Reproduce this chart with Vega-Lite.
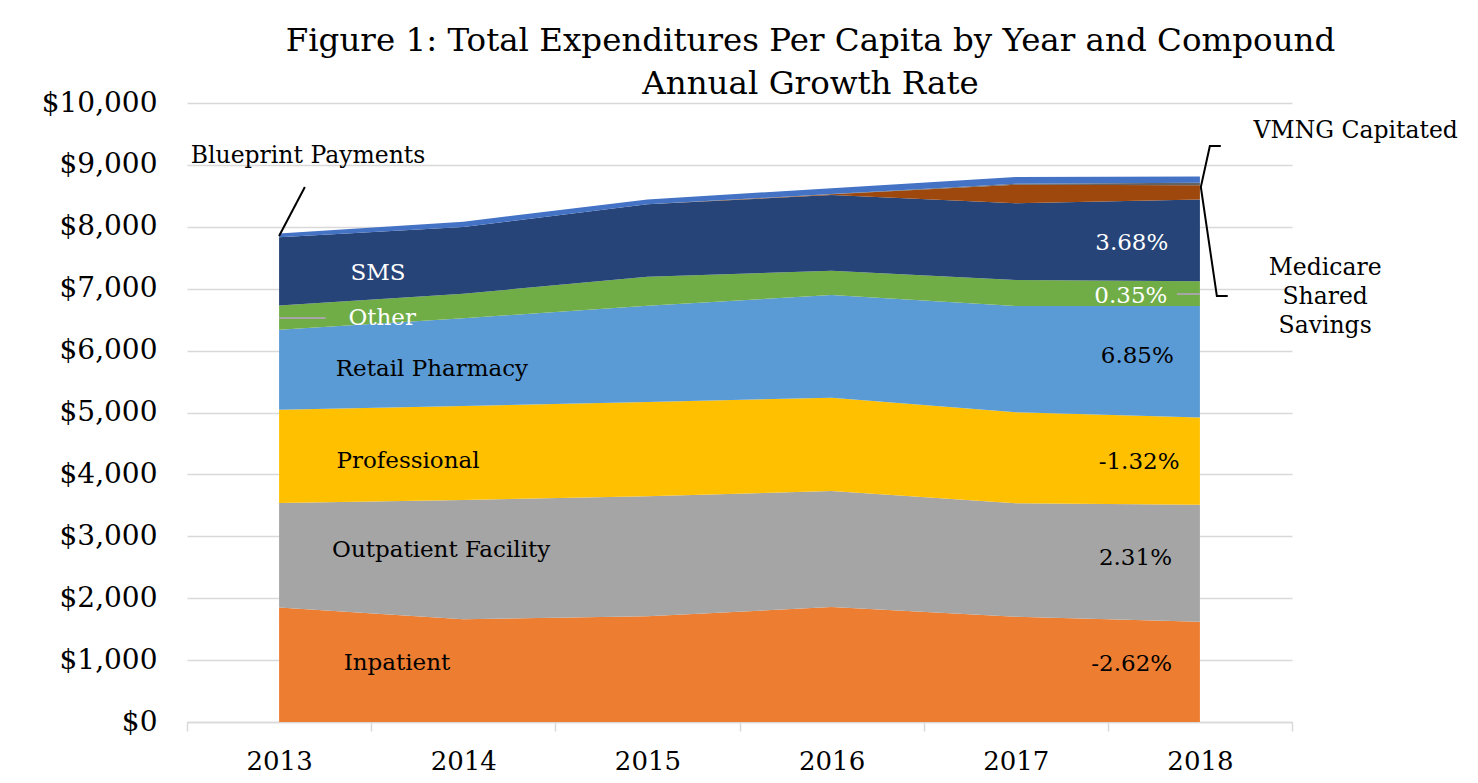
{
  "$schema": "https://vega.github.io/schema/vega-lite/v6.json",
  "width": 1105,
  "height": 619,
  "autosize": {"type": "none"},
  "padding": {"left": 187, "top": 103, "right": 186, "bottom": 61},
  "background": "white",
  "title": {
    "text": ["Figure 1: Total Expenditures Per Capita  by Year and Compound", "Annual Growth Rate"],
    "anchor": "middle",
    "dx": 71,
    "offset": -11,
    "font": "DejaVu Serif",
    "fontSize": 32.5,
    "fontWeight": "normal",
    "lineHeight": 43,
    "color": "black"
  },
  "config": {"view": {"stroke": null}, "font": "DejaVu Serif"},
  "datasets": {
    "series": [
      {"year": 2013, "series": "Inpatient", "value": 1850, "o": 1},
      {"year": 2014, "series": "Inpatient", "value": 1659, "o": 1},
      {"year": 2015, "series": "Inpatient", "value": 1708, "o": 1},
      {"year": 2016, "series": "Inpatient", "value": 1858, "o": 1},
      {"year": 2017, "series": "Inpatient", "value": 1701, "o": 1},
      {"year": 2018, "series": "Inpatient", "value": 1620, "o": 1},
      {"year": 2013, "series": "Outpatient Facility", "value": 1686, "o": 2},
      {"year": 2014, "series": "Outpatient Facility", "value": 1927, "o": 2},
      {"year": 2015, "series": "Outpatient Facility", "value": 1938, "o": 2},
      {"year": 2016, "series": "Outpatient Facility", "value": 1874, "o": 2},
      {"year": 2017, "series": "Outpatient Facility", "value": 1832, "o": 2},
      {"year": 2018, "series": "Outpatient Facility", "value": 1890, "o": 2},
      {"year": 2013, "series": "Professional", "value": 1507, "o": 3},
      {"year": 2014, "series": "Professional", "value": 1519, "o": 3},
      {"year": 2015, "series": "Professional", "value": 1524, "o": 3},
      {"year": 2016, "series": "Professional", "value": 1507, "o": 3},
      {"year": 2017, "series": "Professional", "value": 1470, "o": 3},
      {"year": 2018, "series": "Professional", "value": 1410, "o": 3},
      {"year": 2013, "series": "Retail Pharmacy", "value": 1293, "o": 4},
      {"year": 2014, "series": "Retail Pharmacy", "value": 1417, "o": 4},
      {"year": 2015, "series": "Retail Pharmacy", "value": 1555, "o": 4},
      {"year": 2016, "series": "Retail Pharmacy", "value": 1659, "o": 4},
      {"year": 2017, "series": "Retail Pharmacy", "value": 1718, "o": 4},
      {"year": 2018, "series": "Retail Pharmacy", "value": 1800, "o": 4},
      {"year": 2013, "series": "Other", "value": 392, "o": 5},
      {"year": 2014, "series": "Other", "value": 397, "o": 5},
      {"year": 2015, "series": "Other", "value": 469, "o": 5},
      {"year": 2016, "series": "Other", "value": 393, "o": 5},
      {"year": 2017, "series": "Other", "value": 420, "o": 5},
      {"year": 2018, "series": "Other", "value": 399, "o": 5},
      {"year": 2013, "series": "SMS", "value": 1105, "o": 6},
      {"year": 2014, "series": "SMS", "value": 1078, "o": 6},
      {"year": 2015, "series": "SMS", "value": 1169, "o": 6},
      {"year": 2016, "series": "SMS", "value": 1223, "o": 6},
      {"year": 2017, "series": "SMS", "value": 1239, "o": 6},
      {"year": 2018, "series": "SMS", "value": 1322, "o": 6},
      {"year": 2013, "series": "VMNG Capitated", "value": 0, "o": 7},
      {"year": 2014, "series": "VMNG Capitated", "value": 0, "o": 7},
      {"year": 2015, "series": "VMNG Capitated", "value": 0, "o": 7},
      {"year": 2016, "series": "VMNG Capitated", "value": 10, "o": 7},
      {"year": 2017, "series": "VMNG Capitated", "value": 300, "o": 7},
      {"year": 2018, "series": "VMNG Capitated", "value": 230, "o": 7},
      {"year": 2013, "series": "Medicare Shared Savings", "value": 0, "o": 8},
      {"year": 2014, "series": "Medicare Shared Savings", "value": 0, "o": 8},
      {"year": 2015, "series": "Medicare Shared Savings", "value": 0, "o": 8},
      {"year": 2016, "series": "Medicare Shared Savings", "value": 5, "o": 8},
      {"year": 2017, "series": "Medicare Shared Savings", "value": 15, "o": 8},
      {"year": 2018, "series": "Medicare Shared Savings", "value": 40, "o": 8},
      {"year": 2013, "series": "Blueprint Payments", "value": 60, "o": 9},
      {"year": 2014, "series": "Blueprint Payments", "value": 85, "o": 9},
      {"year": 2015, "series": "Blueprint Payments", "value": 80, "o": 9},
      {"year": 2016, "series": "Blueprint Payments", "value": 95, "o": 9},
      {"year": 2017, "series": "Blueprint Payments", "value": 110, "o": 9},
      {"year": 2018, "series": "Blueprint Payments", "value": 100, "o": 9}
    ],
    "labelsWhite": [
      {"x": 2013.537, "y": 7254, "label": "SMS"},
      {"x": 2013.56, "y": 6527, "label": "Other"},
      {"x": 2017.63, "y": 7738, "label": "3.68%"},
      {"x": 2017.625, "y": 6882, "label": "0.35%"}
    ],
    "labelsDark": [
      {"x": 2013.83, "y": 5703, "label": "Retail Pharmacy"},
      {"x": 2013.70, "y": 4216, "label": "Professional"},
      {"x": 2013.88, "y": 2779, "label": "Outpatient Facility"},
      {"x": 2013.64, "y": 953, "label": "Inpatient"},
      {"x": 2017.66, "y": 5913, "label": "6.85%"},
      {"x": 2017.67, "y": 4200, "label": "-1.32%"},
      {"x": 2017.65, "y": 2649, "label": "2.31%"},
      {"x": 2017.63, "y": 937, "label": "-2.62%"}
    ],
    "labelsOut": [
      {"x": 2013.157, "y": 9144, "label": "Blueprint Payments"},
      {"x": 2018.846, "y": 9548, "label": "VMNG Capitated"},
      {"x": 2018.68, "y": 7334, "label": "Medicare\nShared\nSavings"}
    ],
    "leadersBlack": [
      {"id": "bp", "o": 1, "x": 2013.14, "y": 8643},
      {"id": "bp", "o": 2, "x": 2013.0, "y": 7851},
      {"id": "br", "o": 1, "x": 2018.1135, "y": 9305},
      {"id": "br", "o": 2, "x": 2018.054, "y": 9305},
      {"id": "br", "o": 3, "x": 2018.005, "y": 8643},
      {"id": "br", "o": 4, "x": 2018.092, "y": 6882},
      {"id": "br", "o": 5, "x": 2018.151, "y": 6882}
    ],
    "leadersGray": [
      {"id": "oth", "o": 1, "x": 2013.0, "y": 6527},
      {"id": "oth", "o": 2, "x": 2013.253, "y": 6527},
      {"id": "p35", "o": 1, "x": 2017.875, "y": 6914},
      {"id": "p35", "o": 2, "x": 2018.0, "y": 6914}
    ]
  },
  "layer": [
    {
      "data": {"name": "series"},
      "mark": {"type": "area", "interpolate": "linear"},
      "encoding": {
        "x": {
          "field": "year",
          "type": "quantitative",
          "scale": {"domain": [2012.5, 2018.5], "nice": false, "zero": false},
          "axis": {
            "title": null,
            "values": [2012.5, 2013, 2013.5, 2014, 2014.5, 2015, 2015.5, 2016, 2016.5, 2017, 2017.5, 2018, 2018.5],
            "grid": false,
            "domainColor": "#d9d9d9",
            "domainWidth": 1.5,
            "tickColor": "#d9d9d9",
            "tickWidth": 1.5,
            "tickSize": 9,
            "tickOpacity": {"condition": {"test": "datum.value % 1 === 0", "value": 0}, "value": 1},
            "labelExpr": "datum.value % 1 === 0 ? format(datum.value, 'd') : ''",
            "labelOverlap": false,
            "labelFlush": false,
            "labelFont": "DejaVu Serif",
            "labelFontSize": 26,
            "labelColor": "black",
            "labelPadding": 17
          }
        },
        "y": {
          "field": "value",
          "type": "quantitative",
          "stack": "zero",
          "scale": {"domain": [0, 10000], "nice": false},
          "axis": {
            "title": null,
            "values": [0, 1000, 2000, 3000, 4000, 5000, 6000, 7000, 8000, 9000, 10000],
            "format": "$,d",
            "domain": false,
            "ticks": false,
            "gridColor": "#d9d9d9",
            "gridWidth": 1.5,
            "labelFont": "DejaVu Serif",
            "labelFontSize": 28,
            "labelColor": "black",
            "labelPadding": 30
          }
        },
        "color": {
          "field": "series",
          "type": "nominal",
          "scale": {
            "domain": ["Inpatient", "Outpatient Facility", "Professional", "Retail Pharmacy", "Other", "SMS", "VMNG Capitated", "Medicare Shared Savings", "Blueprint Payments"],
            "range": ["#ED7D31", "#A5A5A5", "#FFC000", "#5B9BD5", "#70AD47", "#264478", "#9E480E", "#636363", "#4472C4"]
          },
          "legend": null
        },
        "order": {"field": "o", "type": "quantitative"}
      }
    },
    {
      "data": {"name": "leadersGray"},
      "mark": {"type": "line", "color": "#a6a6a6", "strokeWidth": 2},
      "encoding": {
        "x": {"field": "x", "type": "quantitative"},
        "y": {"field": "y", "type": "quantitative"},
        "detail": {"field": "id"},
        "order": {"field": "o", "type": "quantitative"}
      }
    },
    {
      "data": {"name": "leadersBlack"},
      "mark": {"type": "line", "color": "black", "strokeWidth": 2, "clip": false},
      "encoding": {
        "x": {"field": "x", "type": "quantitative"},
        "y": {"field": "y", "type": "quantitative"},
        "detail": {"field": "id"},
        "order": {"field": "o", "type": "quantitative"}
      }
    },
    {
      "data": {"name": "labelsWhite"},
      "mark": {"type": "text", "color": "white", "font": "DejaVu Serif", "fontSize": 23, "align": "center", "baseline": "middle"},
      "encoding": {
        "x": {"field": "x", "type": "quantitative"},
        "y": {"field": "y", "type": "quantitative"},
        "text": {"field": "label"}
      }
    },
    {
      "data": {"name": "labelsDark"},
      "mark": {"type": "text", "color": "black", "font": "DejaVu Serif", "fontSize": 23, "align": "center", "baseline": "middle"},
      "encoding": {
        "x": {"field": "x", "type": "quantitative"},
        "y": {"field": "y", "type": "quantitative"},
        "text": {"field": "label"}
      }
    },
    {
      "data": {"name": "labelsOut"},
      "mark": {"type": "text", "color": "black", "font": "DejaVu Serif", "fontSize": 23.5, "align": "center", "baseline": "middle", "lineBreak": "\n", "lineHeight": 29},
      "encoding": {
        "x": {"field": "x", "type": "quantitative"},
        "y": {"field": "y", "type": "quantitative"},
        "text": {"field": "label"}
      }
    }
  ]
}
